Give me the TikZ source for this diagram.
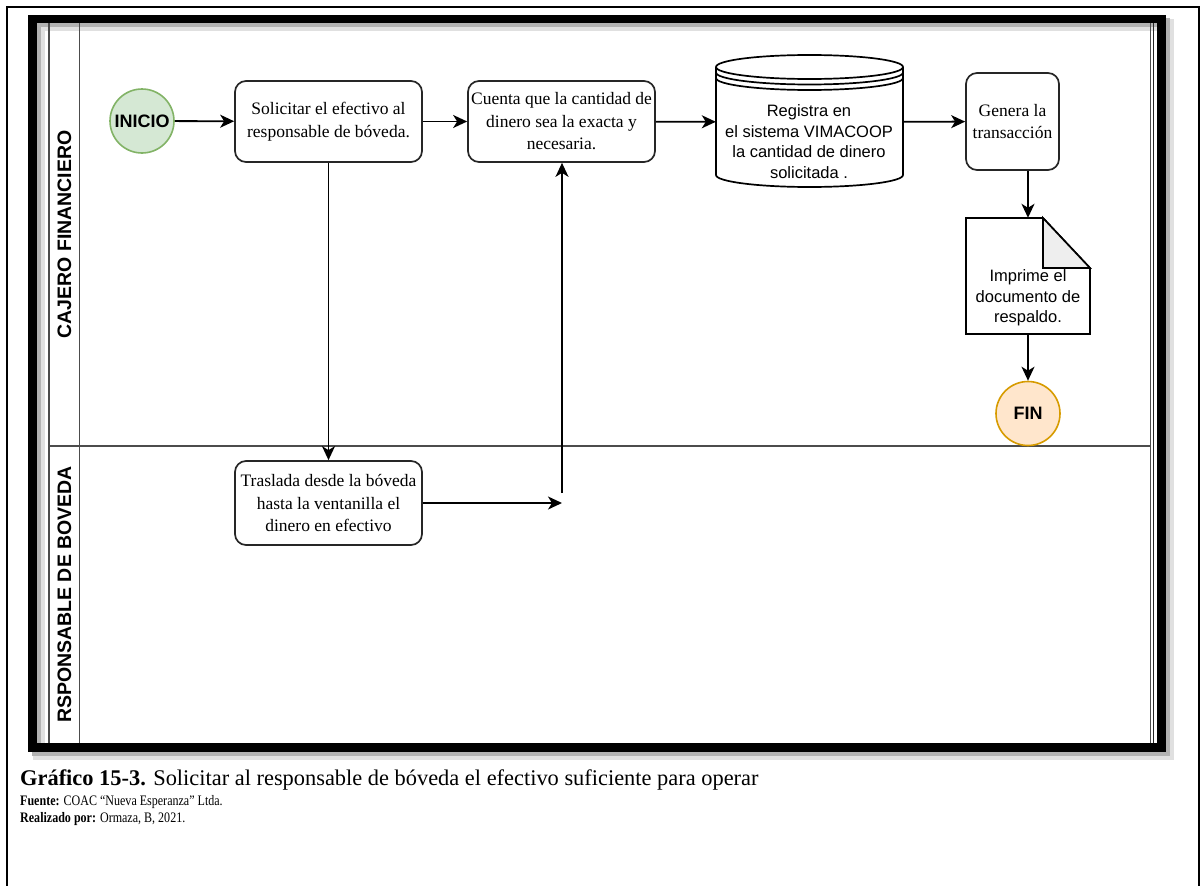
\documentclass[tikz,border=0pt]{standalone}
\usepackage{fontspec}
\setmainfont{Liberation Serif}
\setsansfont{Liberation Sans}
\usetikzlibrary{arrows.meta}
\definecolor{startfill}{HTML}{D5E8D4}
\definecolor{startline}{HTML}{82B366}
\definecolor{endfill}{HTML}{FFE6CC}
\definecolor{endline}{HTML}{D79B00}
\definecolor{foldgrey}{HTML}{EEEEEE}
\tikzset{
  proc/.style  ={draw=black!85, fill=white, rounded corners=11pt, line width=1.7pt, align=center,
                 font=\fontsize{17.5}{22.5}\selectfont, inner sep=0pt, minimum width=187pt, minimum height=81pt},
  evt/.style   ={circle, line width=1.6pt, font=\sffamily\bfseries\fontsize{18}{22}\selectfont,
                 minimum size=64pt, inner sep=0pt},
  stxt/.style  ={align=center, font=\sffamily\fontsize{16.5}{20.5}\selectfont, inner sep=0pt},
  ar/.style    ={-{Stealth[length=14pt,width=13pt,inset=4pt]}, line width=1.8pt},
  lane/.style  ={draw=black!70, line width=1.8pt},
  lbl/.style   ={rotate=90, font=\sffamily\bfseries\fontsize{19.5}{22}\selectfont},
  capt/.style  ={anchor=base west, inner sep=0pt},
}
\begin{document}
\begin{tikzpicture}[x=1pt,y=-1pt]
\useasboundingbox (0,0) rectangle (1203,886);
% page border and pool frame
\draw[line width=2pt] (7,886) -- (7,7) -- (1199,7) -- (1199,886);
\draw[black!12, line width=12pt] (38.5,25) rectangle (1167.5,753.5);
\draw[black!30, line width=9pt] (36,22.5) rectangle (1165,751);
\draw[line width=8.5pt] (32.5,19) rectangle (1161.5,747.5);

% lanes
\draw[lane] (49,23) -- (49,743);
\draw[lane] (79.5,23) -- (79.5,743);
\draw[lane] (1150.5,23) -- (1150.5,743);
\draw[lane,draw=black!85] (1153.5,23) -- (1153.5,743);
\draw[lane] (49,446) -- (1150.5,446);
\node[lbl] (lcaj) at (64.5,234.5) {CAJERO FINANCIERO};
\node[lbl] (lbov) at (64.5,594.5) {RSPONSABLE DE BOVEDA};

% cajero financiero
\node[evt, draw=startline, fill=startfill] (ini) at (142,121) {INICIO};
\node[proc] (sol) at (328.5,121.5) {Solicitar el efectivo al\\responsable de bóveda.};
\node[proc] (cta) at (561.5,121.5) {Cuenta que la cantidad de\\dinero sea la exacta y\\necesaria.};
\node[minimum width=187pt, minimum height=130pt, inner sep=0pt] (reg) at (809.5,122) {};
\draw[line width=1.7pt, fill=white] (716,67) -- (716,175)
  .. controls (716,181.6) and (757.9,187) .. (809.5,187)
  .. controls (861.1,187) and (903,181.6) .. (903,175) -- (903,67);
\draw[line width=1.7pt, fill=white] (809.5,67) ellipse [x radius=93.5, y radius=12];
\foreach \cy in {72.5,78}{
  \draw[line width=1.7pt] (716,\cy) .. controls (716,\cy+6.6) and (757.9,\cy+12) .. (809.5,\cy+12)
    .. controls (861.1,\cy+12) and (903,\cy+6.6) .. (903,\cy);
}
\node[stxt] (regtxt) at (809,141.5) {Registra en\\el sistema VIMACOOP\\la cantidad de dinero\\solicitada .};
\node[proc, minimum width=93pt, minimum height=97pt] (gen) at (1012.5,121.5) {Genera la\\transacción};
\node[minimum width=124pt, minimum height=116pt, inner sep=0pt] (doc) at (1028,276) {};
\draw[line width=1.7pt, fill=white] (966,218) -- (1043,218) -- (1090,268) -- (1090,334) -- (966,334) -- cycle;
\draw[line width=1.7pt, fill=foldgrey] (1043,218) -- (1043,268) -- (1090,268) -- cycle;
\node[stxt] (doctxt) at (1028,298) {Imprime el\\documento de\\respaldo.};
\node[evt, draw=endline, fill=endfill] (fin) at (1028,413.5) {FIN};

% responsable de boveda
\node[proc, minimum height=84pt] (tras) at (328.5,503) {Traslada desde la bóveda\\hasta la ventanilla el\\dinero en efectivo};
\coordinate (j1) at (562,503);
\coordinate (j2) at (562,493);

% flow
\draw[ar] (ini) -- (sol);
\draw[ar] (sol) -- (cta);
\draw[ar] (cta) -- (reg);
\draw[ar] (reg) -- (gen);
\draw[ar] (gen.south -| doc.north) -- (doc.north);
\draw[ar] (doc.south) -- (fin.north);
\draw[ar] (sol.south) -- (tras.north);
\draw[ar] (tras.east) -- (j1);
\draw[ar] (j2) -- (j2 |- cta.south);

% caption
\node[capt, font=\fontsize{22.4}{26}\selectfont] (cap) at (20,785)
  {\textbf{Gráfico 15-3.} Solicitar al responsable de bóveda el efectivo suficiente para operar};
\node[capt, font=\fontsize{14.5}{16}\selectfont] (src) at (20,805)
  {\scalebox{0.83}[1]{\textbf{Fuente:} COAC “Nueva Esperanza” Ltda.}};
\node[capt, font=\fontsize{14.5}{16}\selectfont] (auth) at (20,822)
  {\scalebox{0.83}[1]{\textbf{Realizado por:} Ormaza, B, 2021.}};
\end{tikzpicture}
\end{document}
